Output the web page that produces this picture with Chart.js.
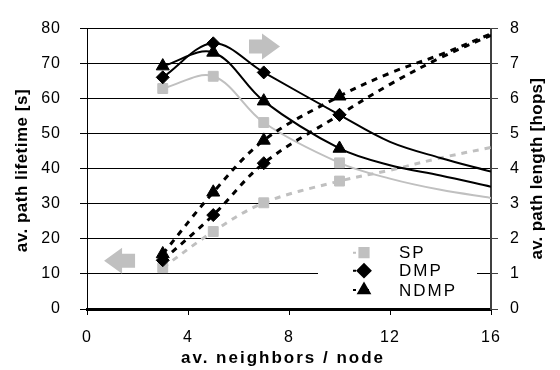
<!DOCTYPE html>
<html>
<head>
<meta charset="utf-8">
<script src="https://cdn.jsdelivr.net/npm/chart.js@4.4.0/dist/chart.umd.min.js"></script>
<style>
  html, body { margin: 0; padding: 0; background: #fff; }
  #wrap { width: 560px; height: 370px; }
</style>
</head>
<body>
<div id="wrap"><canvas id="pathChart"></canvas></div>
<script>
// values
const neighbors = [3, 5, 7, 10, 12, 14, 16];
const markedNeighbors = [3, 5, 7, 10];   // only these carry a marker

const lifetimeSP   = [62.9, 66.4, 53.2, 41.7, 37.2, 34.0, 31.7];
const lifetimeDMP  = [66.1, 75.8, 67.5, 55.4, 47.7, 43.1, 39.2];
const lifetimeNDMP = [69.3, 73.2, 59.3, 45.8, 41.0, 38.1, 34.9];

const hopsSP   = [1.18, 2.21, 3.03, 3.65, 3.96, 4.31, 4.61];
const hopsDMP  = [1.39, 2.68, 4.16, 5.54, 6.41, 7.17, 7.81];
const hopsNDMP = [1.57, 3.33, 4.81, 6.07, 6.73, 7.26, 7.85];

const xTicks = [0, 4, 8, 12, 16];
const lifetimeTicks = [0, 10, 20, 30, 40, 50, 60, 70, 80];
const hopsTicks = [0, 1, 2, 3, 4, 5, 6, 7, 8];
const seriesNames = ['SP', 'DMP', 'NDMP'];

const GRAY = '#c0c0c0';
const FONT = "'Liberation Sans', Arial, sans-serif";

function toPoints(ys) {
  return neighbors.map(function(x, i) { return { x: x, y: ys[i] }; });
}

function markerRadius(r) {
  return function(ctx) {
    const p = ctx.raw;
    return p && markedNeighbors.indexOf(p.x) >= 0 ? r : 0;
  };
}

function series(name, data, axis, color, style, radius, dashed) {
  return {
    label: name,
    data: toPoints(data),
    yAxisID: axis,
    borderColor: color,
    backgroundColor: color,
    borderWidth: dashed ? 3 : 2,
    borderDash: dashed ? [6, 6] : [],
    pointStyle: style,
    pointRadius: markerRadius(radius),
    pointHoverRadius: 0,
    pointBorderWidth: 1,
    tension: 0.35,
    showLine: true,
    fill: false
  };
}

// big gray arrows, anchored in data units
const arrows = [
  { x: 1.27, y: 13.8, dir: -1 },
  { x: 7.05, y: 74.9, dir: 1 }
];

function spacedText(ctx, text, x, y, font, spacing, rot) {
  ctx.save();
  ctx.translate(x, y);
  ctx.rotate(rot);
  ctx.font = font;
  ctx.letterSpacing = spacing + 'px';
  ctx.textAlign = 'center';
  ctx.textBaseline = 'middle';
  ctx.fillStyle = '#000';
  ctx.fillText(text, spacing / 2, 0);
  ctx.restore();
}

const decorPlugin = {
  id: 'decor',
  beforeDraw: function(chart) {
    chart.ctx.letterSpacing = '1px';
  },
  afterDraw: function(chart) {
    const ctx = chart.ctx;
    const area = chart.chartArea;
    const midY = (area.top + area.bottom) / 2;
    const bold = 'bold 17px ' + FONT;
    spacedText(ctx, 'av. neighbors / node', 282, 358, bold, 2, 0);
    spacedText(ctx, 'av. path lifetime [s]', 22, midY + 2, bold, 0.5, -Math.PI / 2);
    spacedText(ctx, 'av. path length [hops]', 537, midY, bold, 0.3, -Math.PI / 2);
  },
  afterDatasetsDraw: function(chart) {
    const ctx = chart.ctx;
    const xs = chart.scales.x, ys = chart.scales.y;
    ctx.save();
    ctx.fillStyle = GRAY;
    arrows.forEach(function(a) {
      const cx = xs.getPixelForValue(a.x), cy = ys.getPixelForValue(a.y);
      const d = a.dir;
      const tail = 16, head = 15, hh = 13, sh = 7;
      ctx.beginPath();
      ctx.moveTo(cx + d * head, cy);
      ctx.lineTo(cx + d * (head - 18), cy - hh);
      ctx.lineTo(cx + d * (head - 18), cy - sh);
      ctx.lineTo(cx - d * tail, cy - sh);
      ctx.lineTo(cx - d * tail, cy + sh);
      ctx.lineTo(cx + d * (head - 18), cy + sh);
      ctx.lineTo(cx + d * (head - 18), cy + hh);
      ctx.closePath();
      ctx.fill();
    });

    // legend box inside the plot
    const area = chart.chartArea;
    const bx = area.right - 173, by = 241;
    ctx.fillStyle = '#fff';
    ctx.fillRect(bx, by, 159, 61);
    const rows = [252.7, 270.7, 290];
    const mx = bx + 46, tx = bx + 81;
    ctx.font = '17px ' + FONT;
    ctx.letterSpacing = '2px';
    ctx.textBaseline = 'middle';
    ctx.textAlign = 'left';
    seriesNames.forEach(function(name, i) {
      const ds = chart.data.datasets.find(function(d) { return d.label === name; });
      const y = rows[i];
      ctx.strokeStyle = ds.borderColor;
      ctx.lineWidth = 2;
      ctx.setLineDash([3, 10]);
      ctx.beginPath();
      ctx.moveTo(mx - 11, y);
      ctx.lineTo(mx + 11, y);
      ctx.stroke();
      ctx.setLineDash([]);
      ctx.fillStyle = ds.backgroundColor;
      Chart.helpers.drawPoint(ctx, { pointStyle: ds.pointStyle, radius: 6.5, borderWidth: 1 }, mx, y);
      ctx.fill();
      ctx.fillStyle = '#000';
      ctx.fillText(name, tx, y + 1);
    });
    ctx.restore();
  }
};

Chart.defaults.font.family = FONT;
Chart.defaults.color = '#000';

new Chart(document.getElementById('pathChart'), {
  type: 'scatter',
  data: {
    datasets: [
      series('NDMP', lifetimeNDMP, 'y',  '#000', 'triangle', 7.5, false),
      series('NDMP', hopsNDMP,     'y2', '#000', 'triangle', 7.5, true),
      series('DMP',  lifetimeDMP,  'y',  '#000', 'rectRot',  6.5, false),
      series('DMP',  hopsDMP,      'y2', '#000', 'rectRot',  6.5, true),
      series('SP',   lifetimeSP,   'y',  GRAY,   'rect',     7, false),
      series('SP',   hopsSP,       'y2', GRAY,   'rect',     7, true)
    ]
  },
  options: {
    responsive: true,
    maintainAspectRatio: false,
    animation: false,
    layout: { padding: { top: 17, left: 0, right: 0, bottom: 0 } },
    plugins: { legend: { display: false }, tooltip: { enabled: false } },
    scales: {
      x: {
        type: 'linear', min: 0, max: 16,
        afterBuildTicks: function(s) { s.ticks = xTicks.map(function(v) { return { value: v }; }); },
        afterFit: function(s) { s.height = 61; },
        border: { color: '#000', width: 3 },
        grid: { drawOnChartArea: false, drawTicks: true, tickLength: 6, color: '#000' },
        ticks: { font: { size: 16 }, padding: 13, maxRotation: 0 }
      },
      y: {
        position: 'left', min: 0, max: 80,
        afterBuildTicks: function(s) { s.ticks = lifetimeTicks.map(function(v) { return { value: v }; }); },
        afterFit: function(s) { s.width = 87; },
        border: { color: '#000', width: 1 },
        grid: { color: '#000', lineWidth: 1, tickLength: 7 },
        ticks: { font: { size: 16 }, padding: 19 }
      },
      y2: {
        position: 'right', min: 0, max: 8,
        afterBuildTicks: function(s) { s.ticks = hopsTicks.map(function(v) { return { value: v }; }); },
        afterFit: function(s) { s.width = 69; },
        border: { color: '#404040', width: 2 },
        grid: { drawOnChartArea: false, color: '#404040', tickLength: 7 },
        ticks: { font: { size: 16 }, padding: 12 }
      }
    }
  },
  plugins: [decorPlugin]
});
</script>
</body>
</html>
